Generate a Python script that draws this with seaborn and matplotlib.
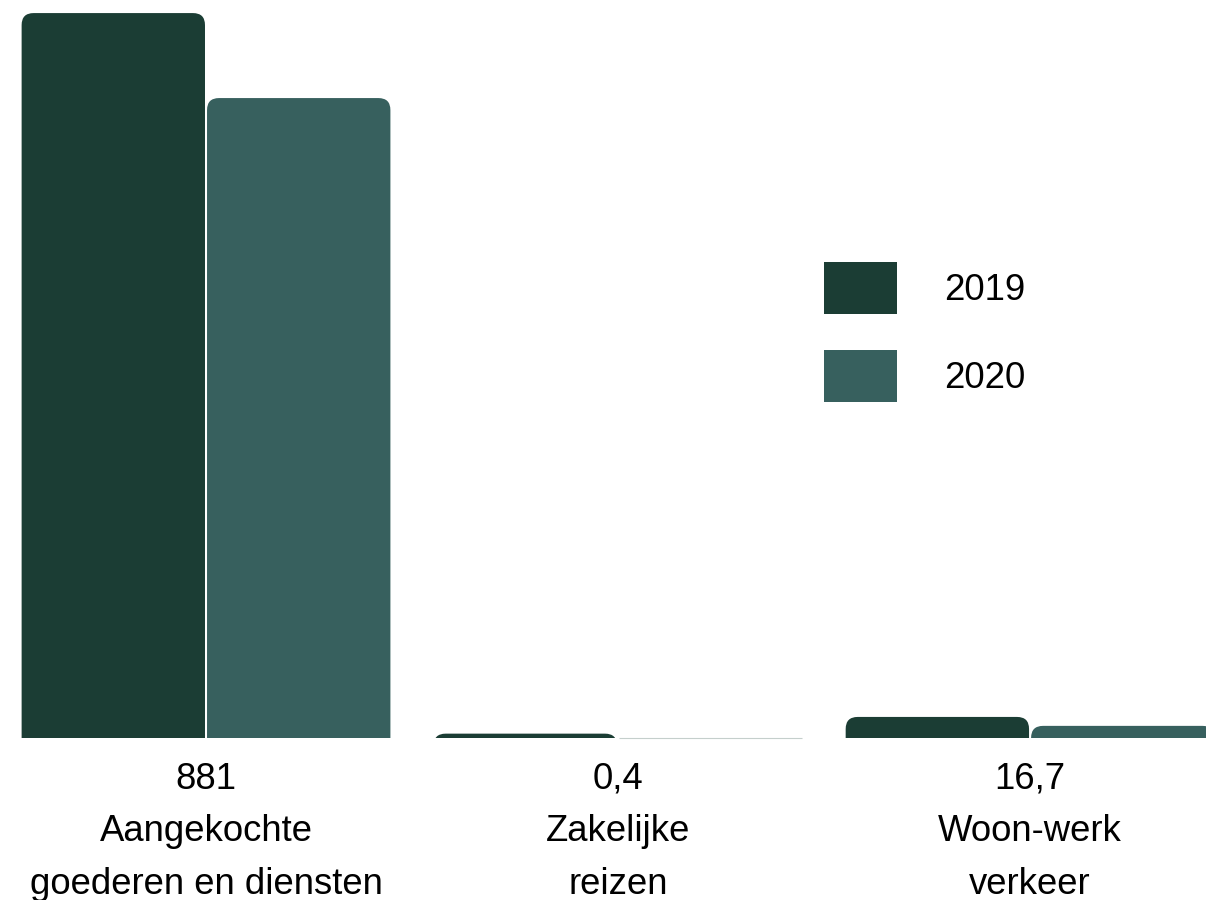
import matplotlib
matplotlib.use("Agg")
import matplotlib.pyplot as plt
import pandas as pd
import seaborn as sns
from matplotlib.patches import FancyBboxPatch, Patch

# data
categories = ["Aangekochte\ngoederen en diensten", "Zakelijke\nreizen", "Woon-werk\nverkeer"]
years = ["2019", "2020"]
values_2019 = [998, 6, 29]
values_2020 = [881, 0.4, 16.7]
value_labels = ["881", "0,4", "16,7"]
colors = ["#1b3d34", "#37605e"]

df = pd.DataFrame({
    "categorie": categories * 2,
    "jaar": [years[0]] * len(categories) + [years[1]] * len(categories),
    "waarde": values_2019 + values_2020,
})

sns.set_theme(style="white")
plt.rcParams["font.family"] = ["Liberation Sans", "DejaVu Sans"]
plt.rcParams["text.color"] = "black"
plt.rcParams["xtick.color"] = "black"

fig = plt.figure(figsize=(12.06, 9.0), dpi=100)
ax = fig.add_axes([0, 0.18, 1, 0.82])

sns.barplot(data=df, x="categorie", y="waarde", hue="jaar", palette=colors,
            width=0.9, gap=0.011, saturation=1, legend=False, ax=ax)

ax.set_xlim(-0.5, 2.427)
ax.set_ylim(0, 1016)

# rounded tops: swap each bar for a rounded box that starts below the baseline
fig.canvas.draw()
px_x = ax.transData.transform((1, 0))[0] - ax.transData.transform((0, 0))[0]
px_y = ax.transData.transform((0, 1))[1] - ax.transData.transform((0, 0))[1]
aspect = px_x / px_y
radius = 12 / px_x
drop = 60
bars = [bar for container in ax.containers for bar in container]
for bar in bars:
    x0, w, h = bar.get_x(), bar.get_width(), bar.get_height()
    fc = bar.get_facecolor()
    bar.remove()
    if h < 1:
        # almost nothing: keep a plain hairline bar
        ax.add_patch(plt.Rectangle((x0, 0), w, h, facecolor=fc,
                                   edgecolor="#c5cfcc", linewidth=0.8,
                                   clip_on=False))
        continue
    ax.add_patch(FancyBboxPatch((x0, -drop), w, h + drop,
                                boxstyle=f"round,pad=0,rounding_size={radius}",
                                mutation_aspect=aspect, facecolor=fc,
                                edgecolor="none"))

ax.set_xlim(-0.5, 2.427)
ax.set_ylim(0, 1016)
ax.set_xticks(range(len(categories)))
ax.set_xticklabels([f"{v}\n{c}" for v, c in zip(value_labels, categories)],
                   fontsize=26.3, linespacing=1.65)
ax.tick_params(axis="x", length=0, pad=17)
ax.set_yticks([])
ax.set_xlabel("")
ax.set_ylabel("")
sns.despine(ax=ax, left=True, bottom=True)

handles = [Patch(facecolor=c, edgecolor="none") for c in colors]
ax.legend(handles, years, loc="upper left",
          bbox_to_anchor=(824 / 1206, 1 - 262 / 900), bbox_transform=fig.transFigure,
          frameon=False, fontsize=26.4, handlelength=1.99, handleheight=1.8,
          handletextpad=1.28, labelspacing=0.98, borderpad=0, borderaxespad=0)

fig.savefig("out.png", dpi=100)
